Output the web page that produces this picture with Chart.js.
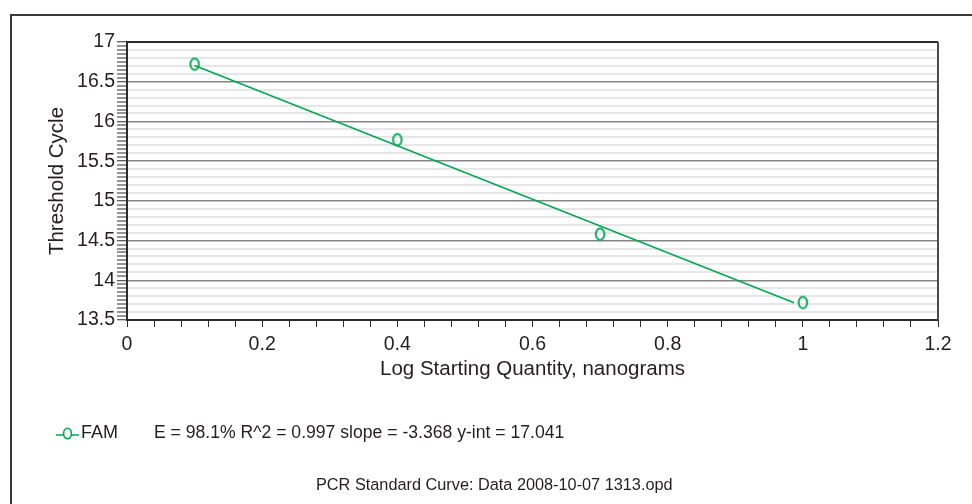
<!DOCTYPE html>
<html>
<head>
<meta charset="utf-8">
<script src="https://cdn.jsdelivr.net/npm/chart.js@4/dist/chart.umd.min.js"></script>
<style>
  html, body { margin: 0; padding: 0; background: #fff; overflow: hidden; }
  #wrap { position: relative; width: 972px; height: 504px; font-family: "Liberation Sans", Arial, sans-serif; color: #231f20; }
  #frame { position: absolute; left: 10px; top: 14px; width: 2000px; height: 2000px; border-left: 2px solid #3a3a3a; border-top: 2px solid #3a3a3a; }
  #c { position: absolute; left: 0; top: 0; }
  #legend { position: absolute; left: 55px; top: 421px; height: 22px; font-size: 17.6px; line-height: 22px; white-space: nowrap; }
  #legend svg { position: absolute; left: 0; top: 4px; }
  #legend .name { position: absolute; left: 26px; top: 0; font-size: 18px; }
  #legend .stats { position: absolute; left: 99px; top: 0; }
  #footer { position: absolute; left: 316px; top: 474px; font-size: 16.3px; line-height: 20px; white-space: nowrap; }
</style>
</head>
<body>
<div id="wrap">
  <div id="frame"></div>
  <canvas id="c" width="972" height="504"></canvas>
  <div id="legend">
    <svg width="26" height="16" viewBox="0 0 26 16"><line x1="1" y1="10" x2="24" y2="10" stroke="#00a651" stroke-width="1.5"/><ellipse cx="12.5" cy="8.5" rx="3.9" ry="5.2" fill="#fff" stroke="#00a651" stroke-width="1.6"/></svg>
    <span class="name">FAM</span>
    <span class="stats">E = 98.1% R^2 = 0.997 slope = -3.368 y-int = 17.041</span>
  </div>
  <div id="footer">PCR Standard Curve: Data 2008-10-07 1313.opd</div>
</div>
<script>
// ---- data ----
const seriesName = "FAM";
const logQuantity = [0.1, 0.4, 0.7, 1.0];
const thresholdCycle = [16.72, 15.77, 14.58, 13.72];
const fitLineX = [0.1, 0.987];
const fitLineY = [16.704, 13.717];
const xTitle = "Log Starting Quantity, nanograms";
const yTitle = "Threshold Cycle";

const GREEN = "#00a651";
const FONT = "'Liberation Sans', Arial, sans-serif";

// hollow ellipse marker
function makeMarker() {
  const cv = document.createElement("canvas");
  cv.width = 14; cv.height = 16;
  const g = cv.getContext("2d");
  g.strokeStyle = GREEN; g.lineWidth = 1.9;
  g.beginPath();
  g.ellipse(7, 8, 4.3, 5.7, 0, 0, Math.PI * 2);
  g.stroke();
  return cv;
}
const marker = makeMarker();

function isMult(v, step) {
  const r = v / step;
  return Math.abs(r - Math.round(r)) < 1e-6;
}

const framePlugin = {
  id: "frame",
  afterDatasetsDraw(chart) {
    const a = chart.chartArea, ctx = chart.ctx;
    ctx.save();
    ctx.lineWidth = 2;
    ctx.strokeStyle = "#2b2b2b";
    ctx.beginPath(); ctx.moveTo(a.left, a.top); ctx.lineTo(a.right, a.top); ctx.stroke();
    ctx.strokeStyle = "#4a4a4a";
    ctx.beginPath(); ctx.moveTo(a.right, a.top); ctx.lineTo(a.right, a.bottom); ctx.stroke();
    ctx.restore();
  }
};

new Chart(document.getElementById("c"), {
  type: "scatter",
  data: {
    datasets: [
      {
        label: seriesName + " fit",
        data: fitLineX.map((x, i) => ({ x, y: fitLineY[i] })),
        showLine: true,
        borderColor: GREEN,
        borderWidth: 1.5,
        pointRadius: 0,
        fill: false
      },
      {
        label: seriesName,
        data: logQuantity.map((x, i) => ({ x, y: thresholdCycle[i] })),
        showLine: false,
        pointStyle: marker,
        pointRadius: 6,
        borderColor: GREEN
      }
    ]
  },
  options: {
    responsive: false,
    animation: false,
    events: [],
    layout: { padding: { top: 42, right: 34, left: 0, bottom: 0 } },
    plugins: { legend: { display: false }, title: { display: false }, tooltip: { enabled: false } },
    scales: {
      x: {
        type: "linear",
        min: 0, max: 1.2,
        afterFit(s) { s.height = 184; },
        ticks: {
          stepSize: 0.04,
          autoSkip: false,
          maxRotation: 0,
          padding: 6,
          color: "#231f20",
          font: { family: FONT, size: 19.5 },
          callback: v => isMult(v, 0.2) ? String(+v.toFixed(1)) : ""
        },
        grid: { drawOnChartArea: false, drawTicks: true, tickLength: 7, tickColor: "#2b2b2b", tickWidth: 1 },
        border: { display: true, color: "#2b2b2b", width: 2 },
        title: { display: true, text: xTitle, color: "#231f20", font: { family: FONT, size: 20.5 }, padding: { top: 0, bottom: 122 } }
      },
      y: {
        type: "linear",
        min: 13.5, max: 17,
        afterFit(s) { s.width = 127; },
        ticks: {
          stepSize: 0.05,
          autoSkip: false,
          padding: 2,
          color: "#231f20",
          font: { family: FONT, size: 19.5 },
          callback: v => isMult(v, 0.5) ? String(+v.toFixed(1)) : ""
        },
        grid: {
          drawTicks: true,
          tickLength: 10,
          tickWidth: 1,
          tickColor: "#2b2b2b",
          lineWidth: c => {
            const v = c.tick ? c.tick.value : 0;
            return isMult(v, 0.5) ? 1.5 : 2;
          },
          color: c => {
            const v = c.tick ? c.tick.value : 0;
            if (isMult(v, 0.5)) return "#858585";
            if (isMult(v, 0.1)) return "#e6e6e6";
            return "rgba(0,0,0,0)";
          }
        },
        border: { display: true, color: "#2b2b2b", width: 2 },
        title: { display: true, text: yTitle, color: "#231f20", font: { family: FONT, size: 20.5 }, padding: { top: 45, bottom: 0 } }
      }
    }
  },
  plugins: [framePlugin]
});
</script>
</body>
</html>
